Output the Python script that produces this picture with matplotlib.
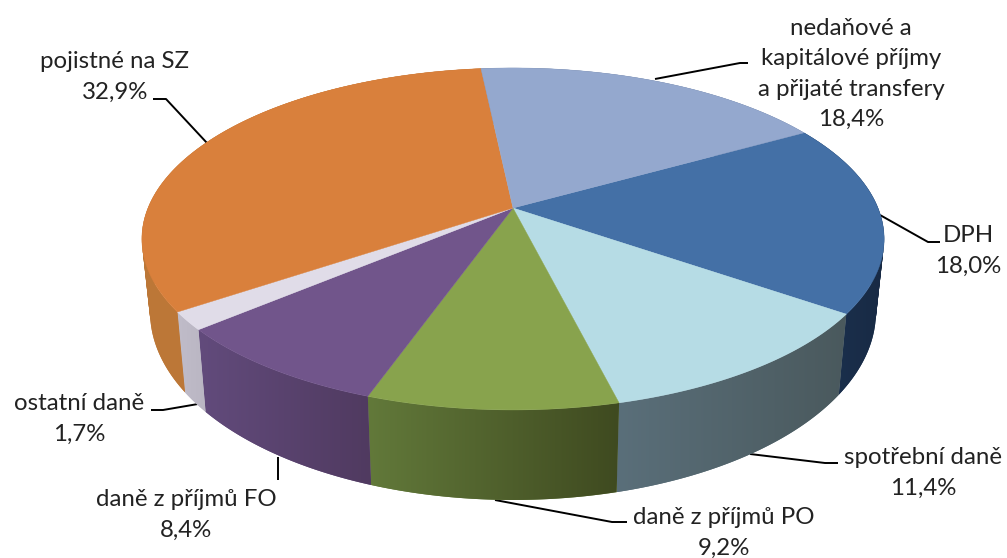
import numpy as np
import matplotlib
matplotlib.use("Agg")
import matplotlib.pyplot as plt
from matplotlib.colors import LinearSegmentedColormap
from matplotlib.patches import PathPatch, Polygon
from matplotlib.path import Path

# shares in %, clockwise from the DPH slice
labels = ["DPH", "spotřební daně", "daně z příjmů PO", "daně z příjmů FO",
          "ostatní daně", "pojistné na SZ",
          "nedaňové a\nkapitálové příjmy\na přijaté transfery"]
values = [18.0, 11.4, 9.2, 8.4, 1.7, 32.9, 18.4]

top_colors = ["#4470a6", "#b6dce5", "#88a34d", "#71558b", "#e0dce8", "#d9803c", "#94a8ce"]
side_left = ["#1c3352", "#5a6f7a", "#62793a", "#624b7c", "#c0bcc9", "#bd7838", "#6f7e9a"]
side_right = ["#182a44", "#4a595d", "#3f4a20", "#503a60", "#bab6c3", "#b87236", "#6f7e9a"]

label_pos = [(968, 251), (923, 473), (724, 533), (186, 515), (79, 419), (115, 77), (851, 74)]
leaders = [
    [(880, 215), (928, 242), (940, 242)],
    [(750, 454), (825, 463), (838, 463)],
    [(495, 500), (612, 522), (627, 522)],
    [(278, 457), (278, 480)],
    [(198, 404), (163, 410), (151, 410)],
    [(207, 143), (166, 99), (153, 99)],
    [(655, 79), (740, 63), (748, 63)],
]

START_ANGLE = 60.3


def top_rim(deg):
    u, v = np.sin(np.radians(deg)), np.cos(np.radians(deg))
    d = 1 + 0.181 * v
    return 513 + 365 * u / d, 208 - 165.4 * v / d


def bottom_rim(deg):
    u, v = np.sin(np.radians(deg)), np.cos(np.radians(deg))
    d = 1 + 0.18 * v
    return 513 + 357 * u / d, 278 - 182 * v / d


def tri_path(a, b, c):
    # same winding for every triangle, otherwise overlaps cancel out when filled
    area = (b[0] - a[0]) * (c[1] - a[1]) - (c[0] - a[0]) * (b[1] - a[1])
    if area < 0:
        b, c = c, b
    return Path([a, b, c, a], closed=True)


fig = plt.figure(figsize=(10.07, 5.58), dpi=100)
ax = fig.add_axes([0, 0, 1, 1])
ax.axis("off")

edges = START_ANGLE + np.concatenate([[0], np.cumsum(values)]) * 360 / sum(values)

# side wall first: gradient image clipped to a union of small triangles per slice,
# a plain outline would lose the tangent part at the left and right ends
for i in range(len(values)):
    angles = np.linspace(edges[i], edges[i + 1], 120)
    tris = []
    for a0, a1 in zip(angles[:-1], angles[1:]):
        tris.append(tri_path(top_rim(a0), top_rim(a1), bottom_rim(a1)))
        tris.append(tri_path(top_rim(a0), bottom_rim(a1), bottom_rim(a0)))
    wall = PathPatch(Path.make_compound_path(*tris), facecolor=side_left[i],
                     edgecolor="none", zorder=2)
    ax.add_patch(wall)
    box = wall.get_path().get_extents()
    cmap = LinearSegmentedColormap.from_list("side", [side_left[i], side_right[i]])
    im = ax.imshow(np.linspace(0, 1, 256).reshape(1, -1), cmap=cmap, aspect="auto",
                   extent=(box.x0, box.x1, box.y1, box.y0), zorder=2.1)
    im.set_clip_path(wall)

# top face
for i in range(len(values)):
    angles = np.linspace(edges[i], edges[i + 1], 120)
    pts = [(513, 208)] + [top_rim(a) for a in angles]
    ax.add_patch(Polygon(pts, facecolor=top_colors[i], edgecolor=top_colors[i], lw=0.3, zorder=3))

for pts in leaders:
    ax.plot([p[0] for p in pts], [p[1] for p in pts], color="black", lw=1.4, zorder=1,
            solid_capstyle="butt", solid_joinstyle="round")

for name, val, pos in zip(labels, values, label_pos):
    txt = name + "\n" + f"{val:.1f}".replace(".", ",") + "%"
    ax.text(pos[0], pos[1], txt, ha="center", va="center", family="Lato",
            fontsize=17.3, color="#222222", linespacing=1.54, zorder=5)

ax.set_xlim(0, 1007)
ax.set_ylim(558, 0)

plt.savefig("out.png", dpi=100, facecolor="white")
plt.close()
